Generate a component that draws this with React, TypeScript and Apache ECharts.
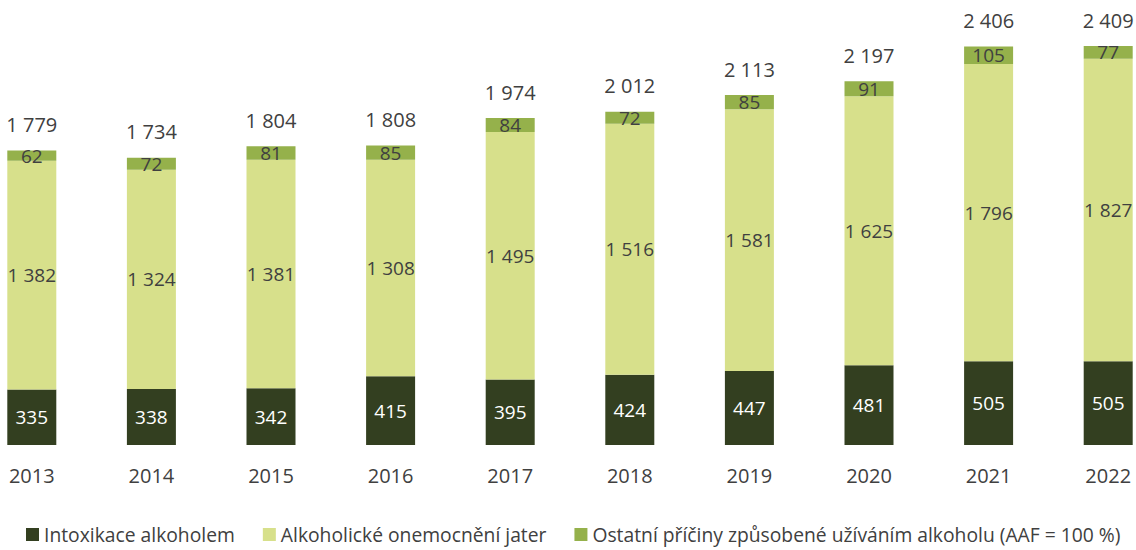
import React, { useEffect, useRef } from "react";
import * as echarts from "echarts";

const years = ["2013", "2014", "2015", "2016", "2017", "2018", "2019", "2020", "2021", "2022"];
const intoxikace = [335, 338, 342, 415, 395, 424, 447, 481, 505, 505];
const jater = [1382, 1324, 1381, 1308, 1495, 1516, 1581, 1625, 1796, 1827];
const ostatni = [62, 72, 81, 85, 84, 72, 85, 91, 105, 77];
const totals = [1779, 1734, 1804, 1808, 1974, 2012, 2113, 2197, 2406, 2409];

const fmt = (v: number) => String(v).replace(/\B(?=(\d{3})+(?!\d))/g, " ");
const FONT = "'Open Sans', 'Noto Sans', sans-serif";
const TXT = "#404040";
const FS = 19;
const BW = 49;

export default function App() {
  const ref = useRef<HTMLDivElement>(null);
  useEffect(() => {
    const chart = echarts.init(ref.current!, null, { renderer: "svg" });
    const lbl = (color: string) => ({
      show: true,
      position: "inside" as const,
      color,
      fontSize: FS,
      fontFamily: FONT,
      formatter: (p: any) => fmt(p.value),
    });
    chart.setOption({
      animation: false,
      textStyle: { fontFamily: FONT },
      grid: { left: 0, right: 0, top: 31, bottom: 105, containLabel: false },
      legend: {
        top: 525,
        left: 54,
        padding: 0,
        itemWidth: 13,
        itemHeight: 13,
        itemGap: 28,
        icon: "rect",
        textStyle: { fontSize: 19.3, lineHeight: 18, color: TXT, fontFamily: FONT },
        data: [
          "Intoxikace alkoholem",
          "Alkoholické onemocnění jater",
          "Ostatní příčiny způsobené užíváním alkoholu (AAF = 100 %)",
        ],
      },
      xAxis: {
        type: "category",
        data: years,
        axisLine: { show: false },
        axisTick: { show: false },
        axisLabel: { color: TXT, fontSize: 20, fontFamily: FONT, margin: 20 },
      },
      yAxis: {
        type: "value",
        min: 0,
        max: 2500,
        show: false,
        splitLine: { show: false },
      },
      series: [
        {
          name: "Intoxikace alkoholem",
          type: "bar",
          stack: "a",
          barWidth: BW,
          barGap: "-100%",
          data: intoxikace,
          itemStyle: { color: "#333f20" },
          label: lbl("#ffffff"),
        },
        {
          name: "Alkoholické onemocnění jater",
          type: "bar",
          stack: "a",
          barWidth: BW,
          barGap: "-100%",
          data: jater,
          itemStyle: { color: "#d7e08b" },
          label: lbl(TXT),
        },
        {
          name: "Ostatní příčiny způsobené užíváním alkoholu (AAF = 100 %)",
          type: "bar",
          stack: "a",
          barWidth: BW,
          barGap: "-100%",
          data: ostatni,
          itemStyle: { color: "#95b14b" },
          label: lbl(TXT),
        },
        {
          name: "total",
          type: "bar",
          barWidth: BW,
          barGap: "-100%",
          data: totals,
          silent: true,
          itemStyle: { color: "rgba(0,0,0,0)" },
          z: 0,
          label: {
            show: true,
            position: "top",
            distance: 16,
            color: TXT,
            fontSize: 20,
            fontFamily: FONT,
            formatter: (p: any) => fmt(p.value),
          },
        },
      ],
    });
    return () => chart.dispose();
  }, []);
  return <div ref={ref} style={{ width: 1196, height: 550, position: "absolute", left: -28, top: 0, background: "#fff" }} />;
}
